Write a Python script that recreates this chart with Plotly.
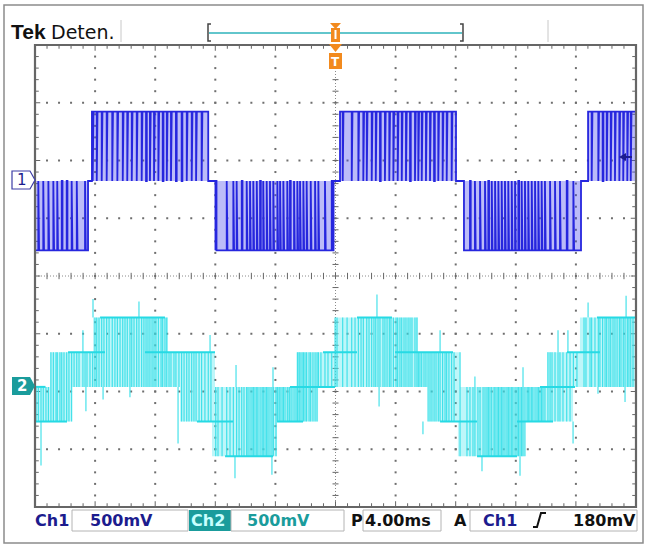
import plotly.graph_objects as go

W, H = 647, 545
GX0, GX1, GY0, GY1 = 35, 636, 45, 507      # graticule box (page pixels)

# ---- acquisition settings ----
T_DIV = 4.0            # ms / div
NX, NY = 10, 8         # divisions
CH1_VDIV = 0.5         # V / div
CH2_VDIV = 0.5
CH1_POS = 1.645        # channel ground position, div
CH2_POS = -1.92
CH1_LEVEL = 0.6        # V, phase voltage step
PULSE_W = 0.05         # ms, width of a notch in the phase voltage

# ---- channel 1 : three-level phase voltage ----
ch1_half_start = [-20.0, -16.21, -7.99, 0.30, 8.55, 16.81]
ch1_half_end = [-16.47, -8.42, -0.13, 8.02, 16.34, 20.0]
ch1_half_sign = [-1, 1, -1, 1, -1, 1]
ch1_pulses = [
    [-19.78, -19.45, -19.11, -18.78, -18.52, -18.22, -17.89, -17.56, -17.22, -16.67],
    [-16.16, -15.89, -15.56, -15.23, -14.86, -14.52, -14.16, -13.86, -13.56, -13.23,
     -12.90, -12.61, -12.35, -12.08, -11.79, -11.50, -11.23, -10.95, -10.62, -10.24,
     -9.90, -9.57, -9.28, -8.91, -8.47],
    [-7.97, -7.24, -6.80, -6.58, -6.24, -5.91, -5.69, -5.47, -5.24, -5.02, -4.81,
     -4.58, -4.36, -4.14, -3.87, -3.69, -3.47, -3.21, -3.03, -2.76, -2.54, -2.36,
     -2.14, -1.92, -1.65, -1.36, -1.14, -0.70, -0.25],
    [0.48, 1.08, 1.52, 1.85, 2.08, 2.41, 2.68, 2.96, 3.29, 3.58, 3.85, 4.14, 4.41,
     4.69, 4.96, 5.29, 5.51, 5.74, 6.02, 6.29, 6.56, 6.84, 7.13, 7.40, 7.73],
    [8.95, 9.28, 9.62, 9.95, 10.17, 10.40, 10.62, 10.84, 11.06, 11.28, 11.50, 11.73,
     11.95, 12.17, 12.39, 12.61, 12.83, 13.06, 13.28, 13.50, 13.72, 13.94, 14.28,
     14.61, 14.94, 15.39, 15.83],
    [17.05, 17.49, 17.78, 18.05, 18.32, 18.60, 18.89, 19.15, 19.42, 19.65],
]

# ---- channel 2 : five-level line voltage ----
# switching bands (ms, V)
ch2_band_start = [-20.0, -19.00, -16.14, -11.35, -10.35, -8.22, -4.03, -2.56, -0.03,
                  5.29, 6.16, 8.15, 11.81, 14.08, 16.27]
ch2_band_end = [-17.54, -15.87, -11.15, -8.02, -7.89, -3.89, -1.16, 0.30, 5.49,
                8.29, 8.62, 12.61, 15.81, 16.94, 20.0]
ch2_band_lo = [-0.3, 0.0, 0.0, 0.0, -0.3, -0.6, -0.3, 0.0, 0.0, 0.0, -0.3, -0.6, -0.3, 0.0, 0.0]
ch2_band_hi = [0.0, 0.3, 0.6, 0.3, 0.0, 0.0, 0.0, 0.3, 0.6, 0.3, 0.0, 0.0, 0.0, 0.3, 0.6]
# levels the output dwells on
ch2_hold_start = [-20.0, -20.0, -17.80, -15.67, -12.68, -9.22, -7.35, -3.89, -3.03,
                  -0.83, 1.43, 3.96, 6.96, 9.42, 12.08, 13.61, 15.41, 17.40]
ch2_hold_end = [-17.87, -19.30, -15.34, -11.35, -8.02, -6.82, -4.16, -2.16, -0.03,
                1.43, 3.76, 7.82, 9.42, 12.08, 14.48, 15.94, 17.60, 20.0]
ch2_hold_level = [-0.3, 0.0, 0.3, 0.6, 0.3, -0.3, -0.6, -0.3, 0.0,
                  0.3, 0.6, 0.3, -0.3, -0.6, -0.3, 0.0, 0.3, 0.6]
# switching instants of the second leg (ms); the first leg switches with ch1
ch2_edges = [
    -19.93, -19.60, -19.27, -18.94, -18.60, -18.34, -18.07, -17.74, -17.40, -17.07,
    -16.81, -16.54, -16.34, -16.01, -15.74, -15.41, -15.07, -14.68, -14.34, -14.01,
    -13.68, -13.41, -13.08, -12.75, -12.48, -12.21, -11.95, -11.61, -11.35, -11.08,
    -10.75, -10.42, -10.08, -9.75, -9.42, -9.08, -8.69, -8.29, -7.82, -7.55, -7.02,
    -6.42, -6.09, -5.82, -5.56, -5.36, -5.16, -4.89, -4.69, -4.49, -4.23, -3.96,
    -3.76, -3.56, -3.36, -3.09, -2.90, -2.63, -2.43, -2.23, -2.03, -1.76, -1.50,
    -1.23, -0.97, -0.50, -0.03, 0.10, 0.77, 1.30, 1.70, 2.23, 2.56, 2.83, 3.16,
    3.43, 3.69, 4.03, 4.29, 4.56, 4.83, 5.09, 5.42, 5.62, 5.89, 6.16, 6.42, 6.69,
    6.96, 7.29, 7.55, 7.89, 8.29, 8.75, 9.15, 9.48, 9.82, 10.08, 10.28, 10.55,
    10.75, 10.95, 11.15, 11.41, 11.61, 11.81, 12.08, 12.28, 12.48, 12.75, 12.94,
    13.14, 13.41, 13.61, 13.81, 14.14, 14.41, 14.81, 15.14, 15.61, 16.07, 16.54,
    16.67, 16.94, 17.27, 17.60, 17.94, 18.20, 18.47, 18.74, 19.00, 19.27, 19.53, 19.80,
]
# overshoot spikes (ms, V from, V to)
ch2_spike_t = [-19.60, -16.81, -16.61, -16.14, -15.47, -13.68, -13.08, -10.48, -8.35,
               -6.69, -6.62, -4.23, -4.16, 2.76, 2.90, 5.82, 6.96, 9.28, 9.75, 12.28,
               12.48, 14.81, 15.47, 15.81, 16.81, 17.47, 19.27, 19.34]
ch2_spike_base = [-0.3, 0.3, 0.0, 0.6, 0.0, 0.0, 0.6, 0.0, 0.3, -0.6, 0.0, -0.6, 0.0,
                  0.6, 0.0, -0.3, 0.3, 0.0, -0.6, -0.6, 0.0, 0.3, 0.3, -0.3, 0.6, 0.0,
                  0.0, 0.6]
ch2_spike_peak = [-0.68, 0.49, -0.21, 0.76, -0.11, -0.09, 0.74, -0.49, 0.45, -0.79,
                  0.19, -0.76, 0.17, 0.80, -0.17, -0.41, 0.49, 0.09, -0.73, -0.77,
                  0.17, 0.49, 0.49, -0.49, 0.73, -0.06, -0.13, 0.79]

# ---- colours ----
CH1_LINE = "#2626de"
CH1_FILL = "rgba(70,70,235,0.36)"
CH2_LINE = "#36dfe8"
CH2_FILL = "rgba(40,225,235,0.30)"
NAVY = "#1c1c8e"
TEAL = "#1a9c9c"
ORANGE = "#f28a1e"
GRID = "#6e6e6e"
FONT = "DejaVu Sans"


def d1(v):
    return v / CH1_VDIV + CH1_POS


def d2(v):
    return v / CH2_VDIV + CH2_POS


def px(x):
    return x / W


def py(y):
    return 1 - y / H


def path(points, close=True):
    s = "M " + " L ".join(f"{px(x):.5f},{py(y):.5f}" for x, y in points)
    return s + (" Z" if close else "")


fig = go.Figure()
XR = (-T_DIV * NX / 2, T_DIV * NX / 2)
YR = (-NY / 2, NY / 2)


def lines(xs, ys, color, width, dash=None):
    fig.add_trace(go.Scatter(x=xs, y=ys, mode="lines", hoverinfo="skip",
                             line=dict(color=color, width=width, dash=dash)))


# ---- graticule ----
gx, gy = [], []
for k in range(1, NX):
    if k == NX // 2:
        continue
    for j in range(1, NY * 5):
        gx.append(XR[0] + k * T_DIV)
        gy.append(YR[0] + j * 0.2)
for k in range(1, NY):
    if k == NY // 2:
        continue
    for j in range(1, NX * 5):
        gx.append(XR[0] + j * T_DIV / 5)
        gy.append(YR[0] + k)
fig.add_trace(go.Scatter(x=gx, y=gy, mode="markers", hoverinfo="skip",
                         marker=dict(symbol="square", size=2, color=GRID, line=dict(width=0))))

# centre cross with sub-division ticks
lines([0, 0], list(YR), "#8a8a8a", 1, "1px,2px")
lines(list(XR), [0, 0], "#8a8a8a", 1, "1px,2px")
tx, ty = [], []
for j in range(1, NY * 5):
    y = YR[0] + j * 0.2
    tx += [-0.2, 0.2, None]
    ty += [y, y, None]
for j in range(1, NX * 5):
    x = XR[0] + j * T_DIV / 5
    tx += [x, x, None]
    ty += [-0.055, 0.055, None]
# ticks along the border
for j in range(0, NX * 5 + 1):
    x = XR[0] + j * T_DIV / 5
    ln = 0.1 if j % 5 == 0 else 0.065
    tx += [x, x, None, x, x, None]
    ty += [YR[1], YR[1] - ln, None, YR[0], YR[0] + ln, None]
for j in range(0, NY * 5 + 1):
    y = YR[0] + j * 0.2
    ln = 0.35 if j % 5 == 0 else 0.25
    tx += [XR[0], XR[0] + ln, None, XR[1], XR[1] - ln, None]
    ty += [y, y, None, y, y, None]
lines(tx, ty, "#666666", 1)

# ---- channel 2 ----
fx, fy = [], []
for t0, t1, lo, hi in zip(ch2_band_start, ch2_band_end, ch2_band_lo, ch2_band_hi):
    fx += [t0, t1, t1, t0, t0, None]
    fy += [d2(lo), d2(lo), d2(hi), d2(hi), d2(lo), None]
fig.add_trace(go.Scatter(x=fx, y=fy, mode="lines", fill="toself", fillcolor=CH2_FILL,
                         line=dict(width=0), hoverinfo="skip"))

leg_a = [p for pulses in ch1_pulses for p in pulses]
ex, ey = [], []
for t in sorted(ch2_edges + leg_a):
    cover = [(lo, hi) for t0, t1, lo, hi in
             zip(ch2_band_start, ch2_band_end, ch2_band_lo, ch2_band_hi) if t0 <= t <= t1]
    if not cover:
        continue
    lo = min(c[0] for c in cover)
    hi = max(c[1] for c in cover)
    ex += [t, t, None]
    ey += [d2(lo), d2(hi), None]
for t, b, p in zip(ch2_spike_t, ch2_spike_base, ch2_spike_peak):
    ex += [t, t, None]
    ey += [d2(b), d2(p), None]
lines(ex, ey, CH2_LINE, 1.1)

hx, hy = [], []
for t0, t1, v in zip(ch2_hold_start, ch2_hold_end, ch2_hold_level):
    hx += [t0, t1, None]
    hy += [d2(v), d2(v), None]
lines(hx, hy, "#26dae4", 2.0)

# ---- channel 1 ----
fx, fy = [], []
for t0, t1, s in zip(ch1_half_start, ch1_half_end, ch1_half_sign):
    fx += [t0, t1, t1, t0, t0, None]
    fy += [d1(0), d1(0), d1(s * CH1_LEVEL), d1(s * CH1_LEVEL), d1(0), None]
fig.add_trace(go.Scatter(x=fx, y=fy, mode="lines", fill="toself", fillcolor=CH1_FILL,
                         line=dict(width=0), hoverinfo="skip"))

wx, wv = [XR[0]], [0.0]
for t0, t1, s, pulses in zip(ch1_half_start, ch1_half_end, ch1_half_sign, ch1_pulses):
    v = s * CH1_LEVEL
    wx += [t0, t0]
    wv += [0.0, v]
    for p in pulses:
        wx += [p, p, p + PULSE_W, p + PULSE_W]
        wv += [v, 0.0, 0.0, v]
    wx += [t1, t1]
    wv += [v, 0.0]
wx.append(XR[1])
wv.append(0.0)
lines(wx, [d1(v) for v in wv], CH1_LINE, 1.8)

# ---- layout ----
shapes = [
    dict(type="rect", xref="paper", yref="paper", x0=px(4), x1=px(643), y0=py(5), y1=py(543),
         line=dict(color="#8c8c8c", width=1.5)),
    dict(type="rect", xref="paper", yref="paper", x0=px(GX0), x1=px(GX1), y0=py(GY0), y1=py(GY1),
         line=dict(color="#666666", width=2.2)),
    # header separators
    dict(type="line", xref="paper", yref="paper", x0=px(121), x1=px(121), y0=py(20), y1=py(42),
         line=dict(color="#c8c8c8", width=1)),
    dict(type="line", xref="paper", yref="paper", x0=px(548), x1=px(548), y0=py(20), y1=py(42),
         line=dict(color="#c8c8c8", width=1)),
    # record view
    dict(type="line", xref="paper", yref="paper", x0=px(209), x1=px(462), y0=py(33), y1=py(33),
         line=dict(color="#62c6cc", width=2)),
    dict(type="path", xref="paper", yref="paper", path=path([(211, 24), (208, 24), (208, 41), (211, 41)], False),
         line=dict(color="#444444", width=1.5)),
    dict(type="path", xref="paper", yref="paper", path=path([(460, 24), (463, 24), (463, 41), (460, 41)], False),
         line=dict(color="#444444", width=1.5)),
    # trigger position markers
    dict(type="path", xref="paper", yref="paper", path=path([(330, 23), (341, 23), (335.5, 29)]),
         fillcolor=ORANGE, line=dict(width=0)),
    dict(type="rect", xref="paper", yref="paper", x0=px(331), x1=px(340), y0=py(28), y1=py(42),
         fillcolor=ORANGE, line=dict(width=0)),
    dict(type="line", xref="paper", yref="paper", x0=px(335.5), x1=px(335.5), y0=py(30), y1=py(39),
         line=dict(color="white", width=2)),
    dict(type="path", xref="paper", yref="paper", path=path([(329, 44), (342, 44), (335.5, 52)]),
         fillcolor=ORANGE, line=dict(width=0)),
    dict(type="rect", xref="paper", yref="paper", x0=px(329), x1=px(342), y0=py(53), y1=py(69),
         fillcolor=ORANGE, line=dict(width=0)),
    # channel ground markers
    dict(type="path", xref="paper", yref="paper",
         path=path([(12, 171), (30, 171), (35, 180), (30, 189), (12, 189)]),
         fillcolor="white", line=dict(color="#3c3ca6", width=1.2)),
    dict(type="path", xref="paper", yref="paper",
         path=path([(12, 377), (30, 377), (35, 386), (30, 395), (12, 395)]),
         fillcolor=TEAL, line=dict(width=0)),
    # trigger level arrow
    dict(type="path", xref="paper", yref="paper", path=path([(619, 157), (626, 153), (626, 161)]),
         fillcolor=NAVY, line=dict(width=0)),
    dict(type="line", xref="paper", yref="paper", x0=px(625), x1=px(632), y0=py(157), y1=py(157),
         line=dict(color=NAVY, width=2)),
    # status bar boxes
    dict(type="rect", xref="paper", yref="paper", x0=px(72), x1=px(188), y0=py(510), y1=py(531),
         line=dict(color="#b4b4b4", width=1)),
    dict(type="rect", xref="paper", yref="paper", x0=px(189), x1=px(231), y0=py(510), y1=py(531),
         fillcolor=TEAL, line=dict(width=0)),
    dict(type="rect", xref="paper", yref="paper", x0=px(231), x1=px(344), y0=py(510), y1=py(531),
         line=dict(color="#b4b4b4", width=1)),
    dict(type="rect", xref="paper", yref="paper", x0=px(363), x1=px(441), y0=py(510), y1=py(531),
         line=dict(color="#b4b4b4", width=1)),
    dict(type="rect", xref="paper", yref="paper", x0=px(470), x1=px(637), y0=py(510), y1=py(531),
         line=dict(color="#b4b4b4", width=1)),
    # rising slope symbol
    dict(type="path", xref="paper", yref="paper",
         path=path([(533, 527), (537, 527), (541, 513), (546, 513)], False),
         line=dict(color="#111111", width=2)),
]

annotations = []


def label(text, x, y, size, color, bold=False, family=FONT, anchor="left"):
    annotations.append(dict(
        x=px(x), y=py(y), xref="paper", yref="paper", text=f"<b>{text}</b>" if bold else text,
        showarrow=False, xanchor=anchor, yanchor="middle", borderpad=0,
        font=dict(family=family, size=size, color=color)))


label("Tek", 10, 31, 21, "#111111", bold=True, family="Liberation Sans")
label("Deten.", 50, 32, 19, "#111111")
label("T", 335.5, 61.5, 12, "white", bold=True, anchor="center")
label("1", 22, 180, 15, NAVY, anchor="center")
label("2", 22, 386, 15, "white", bold=True, anchor="center")

label("Ch1", 34, 520, 16, NAVY, bold=True)
label("500mV", 89, 520, 16, NAVY, bold=True)
label("Ch2", 190, 520, 16, "#c8ffff", bold=True)
label("500mV", 246, 520, 16, TEAL, bold=True)
label("P", 350, 520, 16, "#111111", bold=True)
label("4.00ms", 364, 520, 16, "#111111", bold=True)
label("A", 453, 520, 16, "#111111", bold=True)
label("Ch1", 482, 520, 16, NAVY, bold=True)
label("180mV", 637, 520, 16, "#111111", bold=True, anchor="right")

fig.update_layout(
    width=W, height=H,
    margin=dict(l=0, r=0, t=0, b=0),
    paper_bgcolor="white", plot_bgcolor="white",
    showlegend=False,
    hovermode=False,
    xaxis=dict(domain=[GX0 / W, GX1 / W], range=list(XR), visible=False, fixedrange=True),
    yaxis=dict(domain=[1 - GY1 / H, 1 - GY0 / H], range=list(YR), visible=False, fixedrange=True),
    shapes=shapes,
    annotations=annotations,
)

fig.write_html("out.html")
